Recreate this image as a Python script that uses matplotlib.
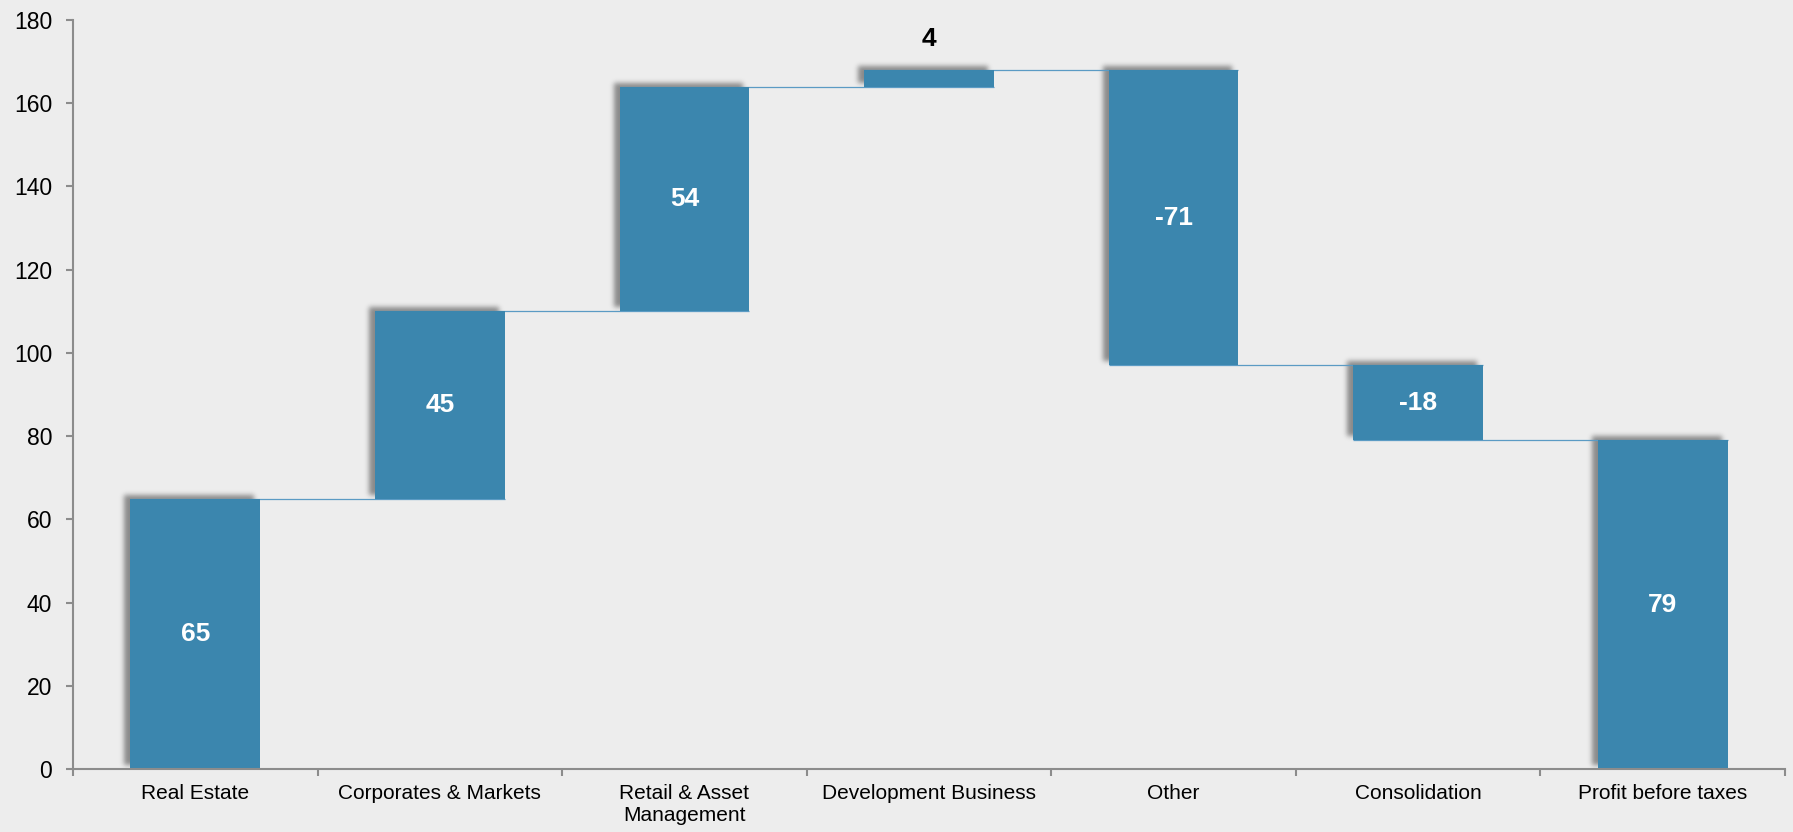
import matplotlib
matplotlib.use("Agg")
import matplotlib.pyplot as plt
import numpy as np

categories = ["Real Estate", "Corporates & Markets", "Retail & Asset\nManagement",
              "Development Business", "Other", "Consolidation", "Profit before taxes"]
changes = [65, 45, 54, 4, -71, -18]
total = 79
value_labels = ["65", "45", "54", "4", "-71", "-18", "79"]
y_ticks = [0, 20, 40, 60, 80, 100, 120, 140, 160, 180]

BAR = "#3b86ae"
LINE = "#5b9bc4"
BG = "#ededed"
AX = "#8c8c8c"

plt.rcParams['font.family'] = ['Liberation Sans', 'DejaVu Sans']

W, H = 1793, 832
fig = plt.figure(figsize=(W / 100, H / 100), dpi=100, facecolor=BG)
ax = fig.add_axes([73 / W, 63 / H, (1785 - 73) / W, (769 - 20) / H])
ax.set_facecolor(BG)

# waterfall geometry from data
bottoms, tops = [], []
level = 0
for c in changes:
    lo, hi = sorted([level, level + c])
    bottoms.append(lo); tops.append(hi)
    level += c
bottoms.append(0); tops.append(total)
levels = np.cumsum(changes)

w = 0.53
x = np.arange(len(categories))
ax.set_xlim(-0.5, len(categories) - 0.5)
ax.set_ylim(0, 180)

# soft drop shadow (offset up-left), computed in pixel space
bb = ax.get_window_extent()
pw, ph = int(round(bb.width)), int(round(bb.height))
mask = np.zeros((ph, pw))
dx, dy = -6, 4
for xi, b, t in zip(x, bottoms, tops):
    (x0, y0), (x1, y1) = ax.transData.transform([(xi - w / 2, b), (xi + w / 2, t)])
    c0 = int(round(x0 - bb.x0 + dx)); c1 = int(round(x1 - bb.x0 + dx))
    r0 = int(round(y0 - bb.y0 + dy)); r1 = int(round(y1 - bb.y0 + dy))
    mask[max(r0, 0):max(r1, 0), max(c0, 0):max(c1, 0)] = 1.0
sig = 2.5
k = np.arange(-8, 9)
g = np.exp(-k ** 2 / (2 * sig ** 2)); g /= g.sum()
mask = np.apply_along_axis(lambda m: np.convolve(m, g, mode='same'), 0, mask)
mask = np.apply_along_axis(lambda m: np.convolve(m, g, mode='same'), 1, mask)
rgba = np.zeros((ph, pw, 4))
rgba[..., 3] = mask * 0.42
ax.imshow(rgba[::-1], extent=(-0.5, len(categories) - 0.5, 0, 180), aspect='auto',
          zorder=1, interpolation='nearest')

# connector lines
for i, lv in enumerate(levels):
    ax.plot([x[i] - w / 2, x[i + 1] + w / 2], [lv, lv], color=LINE, lw=0.9, zorder=2,
            solid_capstyle='butt')

# bars
ax.bar(x, np.array(tops) - np.array(bottoms), bottom=bottoms, width=w, color=BAR,
       zorder=3, linewidth=0)

# value labels
for i, (xi, b, t, lab) in enumerate(zip(x, bottoms, tops, value_labels)):
    if t - b < 10:
        ax.annotate(lab, (xi, t), xytext=(0, 22), textcoords='offset points',
                    ha='center', va='center', fontsize=19, fontweight='bold', color='black', zorder=5)
    else:
        ax.text(xi, (b + t) / 2, lab, ha='center', va='center', fontsize=19,
                fontweight='bold', color='white', zorder=5)

ax.set_xlim(-0.5, len(categories) - 0.5)
ax.set_ylim(0, 180)
ax.set_yticks(y_ticks)
ax.set_yticklabels([str(v) for v in y_ticks], fontsize=16.5)

ax.set_xticks(np.arange(len(categories) + 1) - 0.5)
ax.set_xticklabels([])
ax.set_xticks(x, minor=True)
ax.set_xticklabels(categories, minor=True, fontsize=15, linespacing=1.2)
ax.tick_params(axis='x', which='minor', length=0, pad=11)
ax.tick_params(axis='x', which='major', length=5, width=1.5, color=AX, direction='out')
ax.tick_params(axis='y', length=5, width=1.5, color=AX, pad=10)

for s in ['top', 'right']:
    ax.spines[s].set_visible(False)
for s in ['left', 'bottom']:
    ax.spines[s].set_color(AX)
    ax.spines[s].set_linewidth(1.5)
ax.spines['bottom'].set_zorder(6)

fig.savefig("out.png", dpi=100, facecolor=BG)
